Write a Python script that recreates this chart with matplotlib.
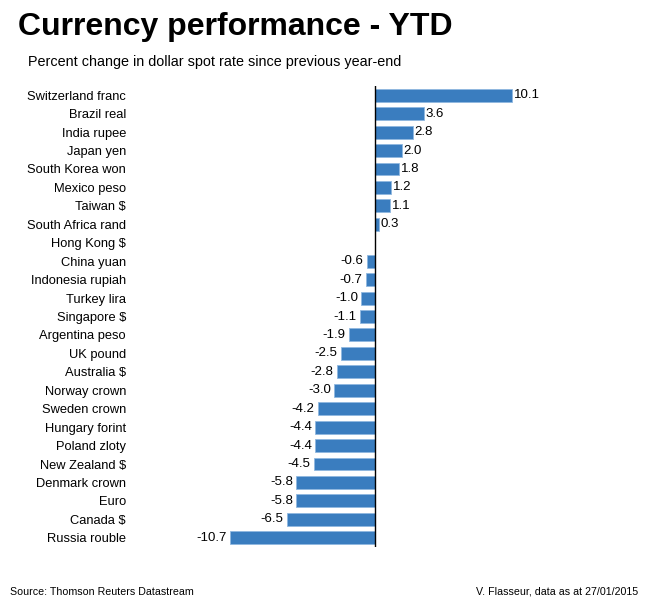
import matplotlib.pyplot as plt

currencies = ['Switzerland franc', 'Brazil real', 'India rupee', 'Japan yen',
              'South Korea won', 'Mexico peso', 'Taiwan $', 'South Africa rand',
              'Hong Kong $', 'China yuan', 'Indonesia rupiah', 'Turkey lira',
              'Singapore $', 'Argentina peso', 'UK pound', 'Australia $',
              'Norway crown', 'Sweden crown', 'Hungary forint', 'Poland zloty',
              'New Zealand $', 'Denmark crown', 'Euro', 'Canada $', 'Russia rouble']
changes = [10.1, 3.6, 2.8, 2.0, 1.8, 1.2, 1.1, 0.3, 0.0, -0.6, -0.7, -1.0,
           -1.1, -1.9, -2.5, -2.8, -3.0, -4.2, -4.4, -4.4, -4.5, -5.8, -5.8,
           -6.5, -10.7]

plt.rcParams['font.family'] = ['Liberation Sans', 'DejaVu Sans']

W, H = 650, 600
fig = plt.figure(figsize=(W / 100, H / 100), dpi=100)
ax = fig.add_axes([160 / W, 1 - 547 / H, 400 / W, 461 / H])

bar_color = '#3a7dbf'
y = list(range(len(currencies)))
ax.barh(y, changes, height=0.7, color=bar_color, edgecolor='#8fb8e0', linewidth=0.6)

# pixels per percentage point, zero line sits at x=375
px = 13.56
ax.set_xlim((160 - 375) / px, (560 - 375) / px)
ax.set_ylim(len(currencies) - 0.5, -0.5)
ax.axvline(0, color='black', lw=1)

for yi, v in zip(y, changes):
    if v == 0:
        continue
    lbl = '{:.1f}'.format(v)
    if v > 0:
        ax.text(v + 0.12, yi, lbl, va='center', ha='left', fontsize=9.5)
    else:
        ax.text(v - 0.25, yi, lbl, va='center', ha='right', fontsize=9.5)

ax.set_yticks(y)
ax.set_yticklabels(currencies, fontsize=9.3)
ax.tick_params(axis='y', length=0, pad=24.5)
ax.set_xticks([])
for s in ax.spines.values():
    s.set_visible(False)

fig.text(18 / W, 1 - 35 / H, 'Currency performance - YTD', fontsize=23,
         fontweight='bold', ha='left', va='baseline')
fig.text(28 / W, 1 - 62 / H, 'Percent change in dollar spot rate since previous year-end',
         fontsize=10.4, ha='left', va='center')
fig.text(10 / W, 1 - 592 / H, 'Source: Thomson Reuters Datastream', fontsize=7.7,
         ha='left', va='center')
fig.text(638 / W, 1 - 592 / H, 'V. Flasseur, data as at 27/01/2015', fontsize=7.7,
         ha='right', va='center')

fig.savefig('out.png', dpi=100)
